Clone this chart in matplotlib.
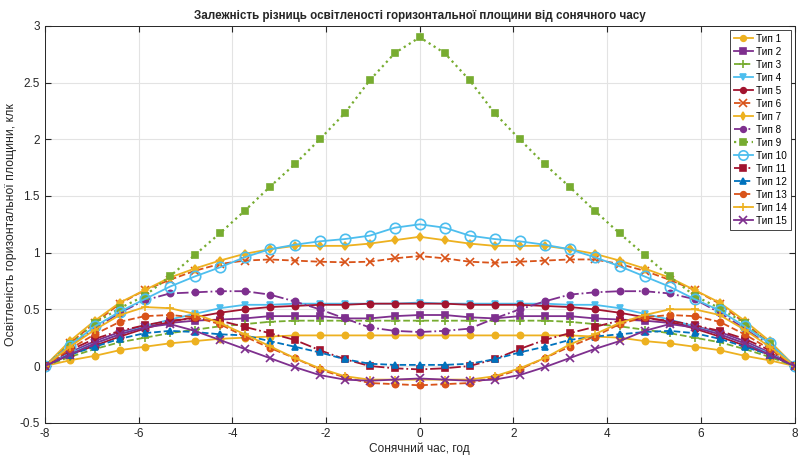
import numpy as np
import matplotlib.pyplot as plt
from matplotlib.ticker import FormatStrFormatter

plt.rcParams['font.family'] = ['Liberation Sans', 'DejaVu Sans']
plt.rcParams['axes.unicode_minus'] = False

# Сонячний час, год (31 точка від -8 до 8)
hours = np.linspace(-8, 8, 31)

# Різниці освітленості, клк
tip1 = [0, 0.05, 0.09, 0.14, 0.17, 0.20, 0.22, 0.24, 0.25, 0.26, 0.27, 0.27, 0.27, 0.27, 0.27, 0.27,
        0.27, 0.27, 0.27, 0.27, 0.27, 0.27, 0.26, 0.25, 0.22, 0.20, 0.17, 0.14, 0.09, 0.05, 0]
tip2 = [0, 0.12, 0.22, 0.30, 0.35, 0.38, 0.40, 0.41, 0.42, 0.44, 0.44, 0.44, 0.42, 0.42, 0.44, 0.45,
        0.45, 0.43, 0.42, 0.44, 0.44, 0.44, 0.42, 0.41, 0.40, 0.38, 0.35, 0.30, 0.22, 0.12, 0]
tip3 = [0, 0.08, 0.15, 0.21, 0.25, 0.29, 0.32, 0.35, 0.37, 0.39, 0.40, 0.40, 0.40, 0.40, 0.40, 0.40,
        0.40, 0.40, 0.40, 0.40, 0.40, 0.39, 0.37, 0.35, 0.32, 0.29, 0.25, 0.21, 0.15, 0.08, 0]
tip4 = [0, 0.11, 0.20, 0.28, 0.35, 0.41, 0.46, 0.51, 0.54, 0.54, 0.55, 0.55, 0.55, 0.55, 0.55, 0.56,
        0.55, 0.55, 0.55, 0.55, 0.55, 0.54, 0.54, 0.51, 0.46, 0.41, 0.35, 0.28, 0.20, 0.11, 0]
tip5 = [0, 0.10, 0.18, 0.26, 0.33, 0.39, 0.43, 0.47, 0.50, 0.52, 0.53, 0.54, 0.54, 0.55, 0.55, 0.55,
        0.55, 0.54, 0.54, 0.54, 0.53, 0.52, 0.50, 0.47, 0.43, 0.39, 0.33, 0.26, 0.18, 0.10, 0]
tip6 = [0, 0.20, 0.38, 0.55, 0.67, 0.76, 0.84, 0.90, 0.93, 0.94, 0.93, 0.92, 0.915, 0.92, 0.95, 0.97,
        0.95, 0.92, 0.91, 0.92, 0.93, 0.94, 0.94, 0.90, 0.84, 0.76, 0.67, 0.55, 0.38, 0.20, 0]
tip7 = [0, 0.22, 0.40, 0.56, 0.67, 0.78, 0.86, 0.93, 0.99, 1.03, 1.06, 1.06, 1.06, 1.08, 1.11, 1.14,
        1.11, 1.08, 1.06, 1.06, 1.06, 1.03, 0.99, 0.93, 0.86, 0.78, 0.67, 0.56, 0.40, 0.22, 0]
tip8 = [0, 0.18, 0.33, 0.47, 0.58, 0.64, 0.65, 0.66, 0.66, 0.63, 0.57, 0.50, 0.42, 0.34, 0.31, 0.30,
        0.31, 0.33, 0.42, 0.50, 0.57, 0.63, 0.65, 0.66, 0.66, 0.64, 0.59, 0.47, 0.33, 0.18, 0]
tip9 = [0, 0.19, 0.38, 0.51, 0.62, 0.79, 0.98, 1.17, 1.37, 1.58, 1.78, 2.00, 2.23, 2.52, 2.76, 2.90,
        2.76, 2.52, 2.23, 2.00, 1.78, 1.58, 1.37, 1.17, 0.98, 0.79, 0.62, 0.51, 0.38, 0.19, 0]
tip10 = [0, 0.18, 0.35, 0.48, 0.59, 0.70, 0.79, 0.87, 0.96, 1.03, 1.07, 1.10, 1.12, 1.15, 1.22, 1.25,
         1.22, 1.15, 1.12, 1.10, 1.07, 1.03, 0.96, 0.88, 0.79, 0.70, 0.59, 0.49, 0.35, 0.20, 0]
tip11 = [0, 0.14, 0.24, 0.31, 0.36, 0.40, 0.42, 0.40, 0.345, 0.29, 0.23, 0.14, 0.06, 0.0, -0.02, -0.03,
         -0.02, 0.0, 0.06, 0.15, 0.23, 0.29, 0.345, 0.40, 0.42, 0.40, 0.36, 0.31, 0.24, 0.14, 0]
tip12 = [0, 0.10, 0.17, 0.24, 0.29, 0.31, 0.30, 0.28, 0.27, 0.22, 0.17, 0.12, 0.06, 0.02, 0.01, 0.01,
         0.01, 0.02, 0.06, 0.12, 0.17, 0.23, 0.26, 0.28, 0.30, 0.31, 0.29, 0.24, 0.17, 0.10, 0]
tip13 = [0, 0.15, 0.28, 0.39, 0.44, 0.45, 0.43, 0.37, 0.26, 0.16, 0.07, -0.03, -0.10, -0.15, -0.16, -0.17,
         -0.16, -0.15, -0.10, -0.03, 0.07, 0.17, 0.26, 0.37, 0.43, 0.45, 0.44, 0.39, 0.28, 0.15, 0]
tip14 = [0, 0.17, 0.32, 0.45, 0.52, 0.51, 0.46, 0.38, 0.28, 0.175, 0.07, -0.02, -0.09, -0.12, -0.12, -0.12,
         -0.12, -0.12, -0.09, -0.02, 0.07, 0.19, 0.28, 0.38, 0.45, 0.50, 0.50, 0.45, 0.32, 0.17, 0]
tip15 = [0, 0.10, 0.20, 0.28, 0.34, 0.37, 0.31, 0.23, 0.15, 0.07, -0.01, -0.08, -0.12, -0.13, -0.12, -0.11,
         -0.12, -0.13, -0.12, -0.08, -0.01, 0.07, 0.15, 0.22, 0.31, 0.37, 0.34, 0.28, 0.20, 0.10, 0]

labels = ['Тип %d' % k for k in range(1, 16)]

# кольори MATLAB
c_blue = (0, 0.447, 0.741)
c_orange = (0.85, 0.325, 0.098)
c_yellow = (0.929, 0.694, 0.125)
c_purple = (0.494, 0.184, 0.556)
c_green = (0.466, 0.674, 0.188)
c_cyan = (0.301, 0.745, 0.933)
c_red = (0.635, 0.078, 0.184)

series = [
    (tip1, c_yellow, 'o', '-'),
    (tip2, c_purple, 's', '-'),
    (tip3, c_green, '+', '--'),
    (tip4, c_cyan, 'v', '-'),
    (tip5, c_red, 'o', '-'),
    (tip6, c_orange, 'x', '--'),
    (tip7, c_yellow, 'd', '-'),
    (tip8, c_purple, 'o', '-.'),
    (tip9, c_green, 's', ':'),
    (tip10, c_cyan, 'o', '-'),
    (tip11, c_red, 's', '-.'),
    (tip12, c_blue, '^', '--'),
    (tip13, c_orange, 'o', '--'),
    (tip14, c_yellow, '+', '-'),
    (tip15, c_purple, 'x', '-'),
]

fig = plt.figure(figsize=(8.01, 4.55), dpi=100)
ax = fig.add_axes([0.056, 0.071, 0.936, 0.872])

for k, (vals, col, mk, ls) in enumerate(series):
    if k == 9:
        # Тип 10 - незафарбовані кола
        ax.plot(hours, vals, color=col, marker=mk, linestyle=ls, linewidth=1.3,
                markersize=7.5, markerfacecolor='none', markeredgewidth=1.2, label=labels[k])
    else:
        ms = 6 if mk in ('+', 'x') else 4.5
        lw = 1.6 if ls == ':' else 1.3
        ax.plot(hours, vals, color=col, marker=mk, linestyle=ls, linewidth=lw,
                markersize=ms, markerfacecolor=col, markeredgewidth=1.2, label=labels[k])

ax.set_xlim(-8, 8)
ax.set_ylim(-0.5, 3)
ax.set_xticks(np.arange(-8, 9, 2))
ax.set_yticks(np.arange(-0.5, 3.01, 0.5))
ax.yaxis.set_major_formatter(FormatStrFormatter('%g'))
ax.grid(True, color='#e3e3e3', linewidth=0.8)
ax.set_axisbelow(True)
ax.tick_params(direction='in', labelsize=8.5, colors='#262626', length=4, top=True, right=True,
               labeltop=False, labelright=False)
for sp in ax.spines.values():
    sp.set_color('#262626')
    sp.set_linewidth(0.7)

ax.set_title('Залежність різниць освітленості горизонтальної площини від сонячного часу',
             fontsize=8.4, fontweight='bold', color='#262626', pad=5)
ax.set_xlabel('Сонячний час, год', fontsize=8.6, color='#262626', labelpad=2)
ax.set_ylabel('Освітленість горизонтальної площини, клк', fontsize=8.8, color='#262626', labelpad=2)

leg = ax.legend(loc='upper right', fontsize=7.2, frameon=True, fancybox=False, framealpha=1,
                edgecolor='#262626', borderpad=0.4, labelspacing=0.3, handlelength=1.9,
                handletextpad=0.3, borderaxespad=0.4, markerscale=0.9)
leg.get_frame().set_linewidth(0.6)

fig.savefig('out.png', dpi=100)
